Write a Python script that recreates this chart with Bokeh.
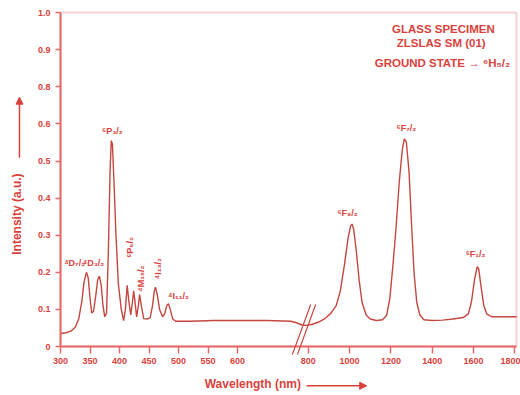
import math
from bokeh.plotting import figure
from bokeh.models import Range1d, FixedTicker, Label, Arrow, NormalHead, BoxAnnotation
from bokeh.embed import file_html
from bokeh.resources import INLINE

# ---------------- data ----------------
vis_wavelength = [300, 310, 318, 325, 331, 336, 340, 344, 347, 350, 353, 356, 360, 363, 366,
                  369, 372, 375, 378, 381, 384, 386, 388, 391, 394, 398, 403, 407, 410, 413,
                  416, 419, 422, 424, 426, 429, 432, 434, 437, 441, 447, 452, 456, 459, 461,
                  464, 468, 473, 477, 480, 483, 486, 490, 495, 520, 560, 600, 650, 690, 700]
vis_intensity = [0.035, 0.037, 0.042, 0.052, 0.075, 0.12, 0.175, 0.2, 0.185, 0.13, 0.09, 0.095,
                 0.14, 0.18, 0.19, 0.165, 0.11, 0.08, 0.09, 0.25, 0.47, 0.555, 0.545, 0.43, 0.3,
                 0.17, 0.1, 0.07, 0.1, 0.165, 0.12, 0.085, 0.12, 0.15, 0.125, 0.08, 0.11, 0.14,
                 0.11, 0.075, 0.074, 0.078, 0.11, 0.15, 0.16, 0.14, 0.1, 0.08, 0.09, 0.11, 0.115,
                 0.1, 0.075, 0.068, 0.068, 0.07, 0.07, 0.07, 0.068, 0.064]

nir_wavelength = [770, 790, 820, 850, 880, 910, 935, 955, 975, 992, 1005, 1012, 1020, 1032, 1046,
                  1060, 1080, 1100, 1130, 1160, 1180, 1195, 1210, 1225, 1240, 1255, 1265, 1275,
                  1288, 1300, 1312, 1325, 1340, 1360, 1400, 1450, 1500, 1550, 1575, 1590, 1605,
                  1618, 1625, 1637, 1650, 1665, 1690, 1750, 1810]
nir_intensity = [0.058, 0.057, 0.06, 0.066, 0.075, 0.09, 0.11, 0.15, 0.22, 0.29, 0.325, 0.33,
                 0.315, 0.26, 0.18, 0.12, 0.085, 0.074, 0.07, 0.072, 0.085, 0.13, 0.22, 0.32,
                 0.44, 0.53, 0.56, 0.55, 0.47, 0.33, 0.2, 0.12, 0.085, 0.072, 0.07, 0.071, 0.074,
                 0.078, 0.088, 0.12, 0.18, 0.215, 0.21, 0.16, 0.11, 0.087, 0.08, 0.08, 0.08]

x_ticks_vis = [300, 350, 400, 450, 500, 550, 600]
x_ticks_nir = [800, 1000, 1200, 1400, 1600, 1800]
y_ticks = [0, 0.1, 0.2, 0.3, 0.4, 0.5, 0.6, 0.7, 0.8, 0.9]
y_tick_labels = ["0", "0.1", "0.2", "0.3", "0.4", "0.5", "0.6", "0.8", "0.9", "1.0"]

peak_texts = ["⁴D₇/₂", "⁴D₃/₂", "⁶P₃/₂", "⁶P₅/₂", "⁴M₁₉/₂", "⁴I₁₃/₂", "⁴I₁₁/₂",
              "⁶F₉/₂", "⁶F₇/₂", "⁶F₁/₂"]
peak_text_wl = [324, 356, 388, 417, 436, 466, 500, 990, 1275, 1610]
peak_text_int = [0.226, 0.226, 0.58, 0.267, 0.183, 0.21, 0.135, 0.361, 0.59, 0.25]
peak_text_rot = [0, 0, 0, 1, 1, 1, 0, 0, 0, 0]

# ---------------- broken-axis mapping ----------------
NIR_OFFSET = 720.0   # axis position of 800 nm
NIR_SCALE = 0.35     # compression of the NIR part
WL_MIN, WL_MAX = 300, 1808
I_MIN, I_MAX = 0, 0.9


def to_axis(wl):
    return wl if wl < 750 else NIR_OFFSET + (wl - 800) * NIR_SCALE


RED = "#d9423c"
LINE = "#c4473f"
AXIS = "#e36a6a"
FONT = "Liberation Sans"

W, H = 520, 395
PX_X = 0.59          # pixels per axis unit (x)
PX_Y = 371.0         # pixels per intensity unit
LEFT, BOTTOM = 60, 49  # frame origin offset inside the canvas

x0 = WL_MIN - LEFT / PX_X
x1 = x0 + W / PX_X
y0 = -BOTTOM / PX_Y
y1 = y0 + H / PX_Y

p = figure(width=W, height=H, output_backend="svg", toolbar_location=None,
           x_range=Range1d(x0, x1), y_range=Range1d(y0, y1),
           min_border=0)
p.background_fill_color = "white"
p.border_fill_color = "white"
p.grid.visible = False
p.outline_line_color = None

# plot box
p.add_layout(BoxAnnotation(left=WL_MIN, right=to_axis(WL_MAX), bottom=I_MIN, top=I_MAX,
                           fill_alpha=0, line_color=AXIS, line_width=2))

xs = [to_axis(w) for w in vis_wavelength + nir_wavelength]
ys = vis_intensity + nir_intensity
p.line(xs, ys, line_color=LINE, line_width=1.4)

# axes (placed at data positions inside the canvas)
p.xaxis.fixed_location = I_MIN
p.yaxis.fixed_location = WL_MIN
p.xaxis.bounds = (WL_MIN, to_axis(WL_MAX))
p.yaxis.bounds = (I_MIN, I_MAX)
xt = [int(round(to_axis(t))) for t in x_ticks_vis + x_ticks_nir]
p.xaxis.ticker = FixedTicker(ticks=xt)
p.xaxis.major_label_overrides = {k: str(t) for k, t in zip(xt, x_ticks_vis + x_ticks_nir)}
p.yaxis.ticker = FixedTicker(ticks=y_ticks)
p.yaxis.major_label_overrides = {k: s for k, s in zip(y_ticks, y_tick_labels)}
for ax in (p.xaxis[0], p.yaxis[0]):
    ax.axis_line_color = AXIS
    ax.axis_line_width = 2
    ax.major_tick_line_color = AXIS
    ax.major_tick_line_width = 1.5
    ax.major_tick_in = 0
    ax.minor_tick_line_color = None
    ax.major_label_text_color = RED
    ax.major_label_text_font = FONT
    ax.major_label_text_font_style = "bold"
    ax.major_label_text_font_size = "9px"
p.xaxis.major_tick_out = 7
p.xaxis.major_label_standoff = 4
p.yaxis.major_tick_out = 5
p.yaxis.major_label_standoff = 5

# peak labels
for t, w, v, r in zip(peak_texts, peak_text_wl, peak_text_int, peak_text_rot):
    p.add_layout(Label(x=to_axis(w), y=v, text=t, text_color=RED, text_font=FONT,
                       text_font_style="bold", text_font_size="9px", text_align="center",
                       text_baseline="middle", angle=(math.pi / 2 if r else 0)))

# info text
for txt, x, y in [("GLASS SPECIMEN", 949, 0.857),
                  ("ZLSLAS  SM (01)", 948, 0.819)]:
    p.add_layout(Label(x=x, y=y, text=txt, text_color=RED, text_font=FONT,
                       text_font_style="bold", text_font_size="11.5px",
                       text_align="center", text_baseline="middle"))
p.add_layout(Label(x=1062, y=0.763, text="GROUND STATE → ⁶H₅/₂", text_color=RED,
                   text_font=FONT, text_font_style="bold", text_font_size="11.5px",
                   text_align="right", text_baseline="middle"))

# axis titles with arrows
p.add_layout(Label(x=626, y=-0.10, text="Wavelength (nm)", text_color=RED, text_font=FONT,
                   text_font_style="bold", text_font_size="12px", text_align="center",
                   text_baseline="middle"))
p.add_layout(Arrow(x_start=717, y_start=-0.106, x_end=819, y_end=-0.106, line_color=RED,
                   line_width=1.5, end=NormalHead(size=7, fill_color=RED, line_color=RED)))
p.add_layout(Label(x=226, y=0.357, text="Intensity (a.u.)", text_color=RED, text_font=FONT,
                   text_font_style="bold", text_font_size="12px", text_align="center",
                   text_baseline="middle", angle=math.pi / 2))
p.add_layout(Arrow(x_start=230.5, y_start=0.509, x_end=230.5, y_end=0.672, line_color=RED,
                   line_width=1.5, end=NormalHead(size=7, fill_color=RED, line_color=RED)))

# axis break marks
for dx in (0, 8.5):
    p.add_layout(Arrow(x_start=693 + dx, y_start=-0.022, x_end=724 + dx, y_end=0.113,
                       line_color=LINE, line_width=1.2, end=None))

open("out.html", "w").write(file_html(p, INLINE))
